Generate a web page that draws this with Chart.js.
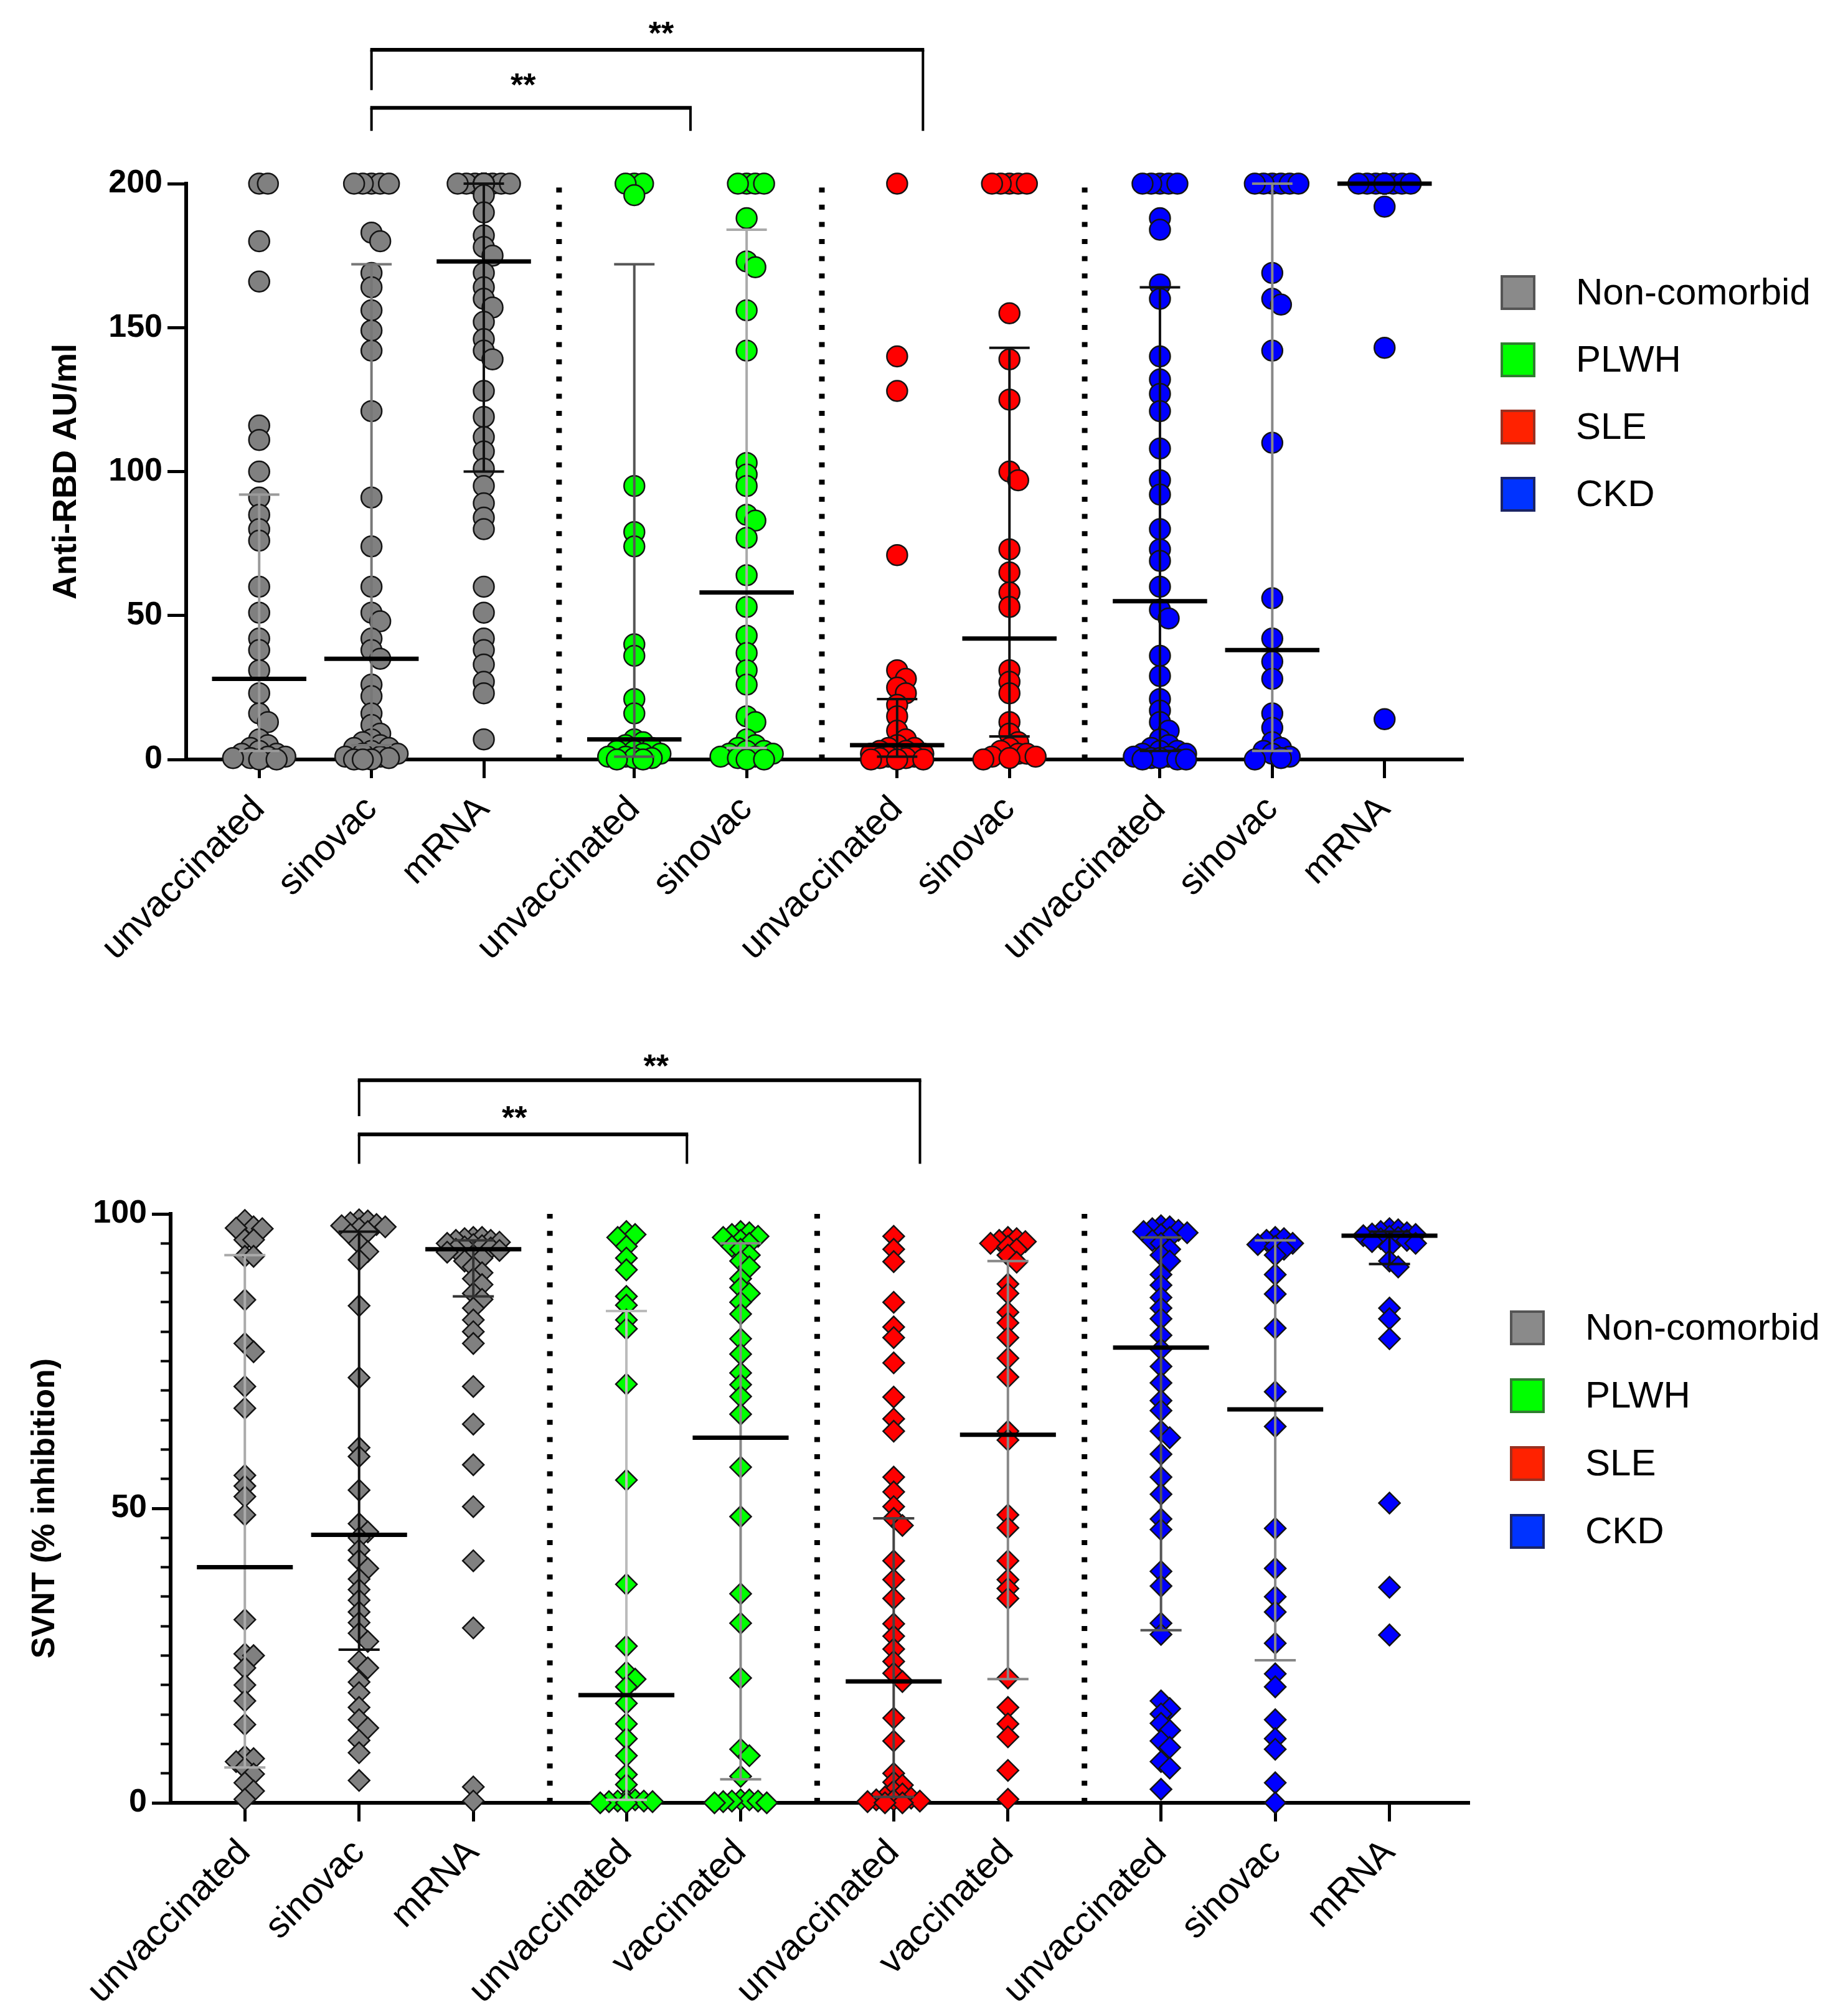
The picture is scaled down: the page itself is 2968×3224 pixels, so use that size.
<!DOCTYPE html>
<html><head><meta charset="utf-8">
<script src="https://cdn.jsdelivr.net/npm/chart.js@4.4.1/dist/chart.umd.min.js"></script>
<style>
html,body{margin:0;padding:0;background:#fff;}
#wrap{position:relative;width:2968px;height:3224px;overflow:hidden;background:#fff}
canvas{position:absolute;left:0;}
#c1{top:0}
#c2{top:1620px}
</style></head><body>
<div id="wrap"><canvas id="c1" width="2968" height="1620"></canvas><canvas id="c2" width="2968" height="1604"></canvas></div>
<script>
// ================= DATA =================
const seriesNames = ['Non-comorbid', 'PLWH', 'SLE', 'CKD'];
const rbdLabels  = ['unvaccinated','sinovac','mRNA','unvaccinated','sinovac','unvaccinated','sinovac','unvaccinated','sinovac','mRNA'];
const svntLabels = ['unvaccinated','sinovac','mRNA','unvaccinated','vaccinated','unvaccinated','vaccinated','unvaccinated','sinovac','mRNA'];
const groupSeries = [0, 0, 0, 1, 1, 2, 2, 3, 3, 3];
const rbdTicks  = [0, 50, 100, 150, 200];
const svntTicks = [0, 50, 100];
const rbdTitle  = 'Anti-RBD AU/ml';
const svntTitle = 'SVNT (% inhibition)';
const significance = ['**', '**'];

// Anti-RBD (AU/ml)
const rbdNonUnvacc  = [200, 200, 180, 166, 116, 111, 100, 91, 85, 80, 76, 60, 51, 42, 38, 31, 23, 16, 13, 7, 5, 4, 3, 2, 2, 1, 1, 0.5, 0.5, 0, 0];
const rbdNonSinovac = [200, 200, 200, 200, 200, 183, 180, 169, 164, 156, 149, 142, 121, 91, 74, 60, 51, 48, 42, 38, 35, 26, 22, 16, 12, 9, 7, 6, 5, 4, 4, 3, 2, 2, 1, 1, 0.5, 0, 0, 0];
const rbdNonMrna    = [200, 200, 200, 200, 200, 200, 200, 200, 200, 200, 200, 200, 200, 200, 200, 200, 200, 200, 196, 190, 182, 178, 175, 169, 164, 160, 157, 152, 146, 142, 139, 128, 119, 112, 107, 101, 95, 89, 84, 80, 60, 51, 42, 38, 33, 27, 23, 7];
const rbdPlwhUnvacc = [200, 200, 200, 196, 95, 79, 74, 40, 36, 21, 16, 7, 6, 5, 4, 3, 3, 2, 2, 1, 1, 0.5, 0.5, 0, 0];
const rbdPlwhSinovac= [200, 200, 200, 200, 188, 173, 171, 156, 142, 103, 99, 95, 85, 83, 77, 64, 53, 43, 37, 31, 26, 15, 13, 7, 5, 4, 3, 3, 2, 2, 1, 1, 0.5, 0, 0];
const rbdSleUnvacc  = [200, 140, 128, 71, 31, 28, 25, 23, 19, 15, 10, 7, 5, 4, 4, 3, 3, 2, 2, 1, 1, 1, 0.5, 0.5, 0, 0, 0];
const rbdSleSinovac = [200, 200, 200, 200, 200, 155, 139, 125, 100, 97, 73, 65, 58, 53, 31, 27, 23, 13, 9, 6, 4, 3, 2, 2, 1, 1, 0.5, 0];
const rbdCkdUnvacc  = [200, 200, 200, 200, 200, 188, 184, 165, 160, 140, 132, 127, 121, 108, 97, 92, 80, 73, 69, 60, 52, 49, 36, 29, 21, 17, 13, 10, 7, 5, 4, 3, 3, 2, 2, 1, 1, 0.5, 0.5, 0, 0, 0];
const rbdCkdSinovac = [200, 200, 200, 200, 200, 200, 169, 160, 158, 142, 110, 56, 42, 34, 28, 16, 11, 6, 4, 3, 2, 1, 0.5, 0];
const rbdCkdMrna    = [200, 200, 200, 200, 200, 200, 200, 200, 200, 200, 200, 200, 192, 143, 14];
const rbdMedian = [28, 35, 173, 7, 58, 5, 42, 55, 38, 200];
const rbdQ1     = [3, 5, 100, 1, 4, 1, 8, 3, 3, 200];
const rbdQ3     = [92, 172, 200, 172, 184, 21, 143, 164, 200, 200];

// SVNT (% inhibition)
const svntNonUnvacc  = [98.9, 97.8, 97.6, 97.5, 95.6, 95.6, 92.8, 92.8, 85.4, 78, 76.6, 70.7, 67, 55.6, 53.8, 52, 48.9, 31.1, 25.3, 25, 22.9, 20, 17.3, 13.3, 7.9, 7.5, 7, 5.9, 4.9, 3.4, 2, 0.6];
const svntNonSinovac = [99, 98.8, 98.5, 98.2, 98, 97.8, 97.5, 97, 96.5, 95, 93.6, 92.2, 84.4, 72.2, 60.3, 58.8, 53.1, 47.4, 46, 45, 42.9, 41.2, 39.8, 38, 36.2, 34.4, 32.4, 30.6, 28.8, 27.4, 24, 22.9, 20.5, 18.7, 16.2, 14.1, 12.7, 10.6, 8.5, 3.8];
const svntNonMrna    = [96, 96, 95.8, 95.5, 95.5, 95.2, 95, 94.8, 94.6, 94.4, 94.2, 94, 93.8, 93.5, 93, 92.5, 92, 91, 90, 89, 88, 86.5, 85.5, 84, 82, 80, 78, 70.7, 64.3, 57.4, 50.3, 41.1, 29.7, 2.7, 0.3];
const svntPlwhUnvacc = [97, 96.5, 96, 94.5, 92.5, 90.5, 86, 84.5, 82, 80.5, 71.1, 54.8, 37.1, 26.6, 22.2, 21, 19.7, 16.9, 13.4, 10.9, 8, 4.8, 3.1, 0.5, 0.5, 0.3, 0.3, 0.2, 0.2, 0, 0];
const svntPlwhVacc   = [97, 96.8, 96.5, 96.2, 96, 95.5, 95, 94.5, 94, 93, 92, 91, 89, 87.5, 86.5, 85, 83, 78.8, 76.2, 73, 71, 69, 66, 57, 48.6, 35.5, 30.5, 21.2, 9.1, 8, 4.5, 0.5, 0.5, 0.3, 0.3, 0.2, 0, 0];
const svntSleUnvacc  = [96.2, 94, 91.9, 85, 80.8, 79, 74.7, 68.9, 65.2, 63.1, 55.3, 52.8, 50.3, 48.3, 47.1, 41.1, 37.9, 34.7, 30.4, 28.3, 26.1, 24, 22, 20.6, 14.4, 10.5, 5, 3.5, 3, 2, 1.5, 1, 0.8, 0.5, 0.5, 0.3, 0.2, 0, 0];
const svntSleVacc    = [96, 95.8, 95.5, 95.3, 95, 94.5, 94, 93, 91.8, 88.1, 86.5, 83.3, 81.5, 79, 75.5, 72.3, 63.1, 61.6, 48.9, 46.7, 41.1, 37.9, 36.4, 34.7, 21.2, 16.2, 13.4, 11.2, 5.5, 0.6];
const svntCkdUnvacc  = [98, 97.8, 97.5, 97.2, 97, 96.8, 96.5, 96, 95.5, 95, 94, 93, 92, 89.7, 87.9, 85.8, 84, 82.2, 79.4, 77, 74.1, 71.3, 68.3, 66.6, 63.1, 62, 59.2, 55.3, 52.4, 48.2, 46.4, 39.3, 36.8, 30.5, 28.6, 17.3, 16, 15.1, 13.5, 12.3, 10.5, 9.4, 7, 5.9, 2.3];
const svntCkdSinovac = [96, 95.8, 95.5, 95, 94.8, 94.5, 94, 93, 89.7, 86.4, 80.6, 69.8, 63.9, 46.6, 39.8, 35, 32.4, 27.1, 21.9, 19.7, 14.1, 10.9, 9.1, 3.4, 0];
const svntCkdMrna    = [97.5, 97.3, 97, 96.8, 96.6, 96.5, 96.3, 96.2, 96, 95.8, 95.5, 95.3, 95, 94.5, 92, 91, 84, 82.2, 78.8, 50.9, 36.6, 28.5];
const svntMedian = [40, 45.5, 94, 18.3, 62, 20.6, 62.5, 77.3, 66.8, 96.3];
const svntQ1     = [6, 26, 86, 0.5, 4, 1, 21, 29.3, 24.2, 91.5];
const svntQ3     = [93, 97, 95.5, 83.5, 95, 48.3, 92, 96, 95.5, 97];

// ================= LAYOUT / STYLE =================
const FONT = "'Liberation Sans', Arial, Helvetica, sans-serif";
Chart.defaults.font.family = FONT;
Chart.defaults.color = '#000';
const POINT_FILL = ['#808080', '#00ff00', '#ff0000', '#0000ff'];
const LEGEND_FILL = ['#8a8a8a', '#00ff00', '#ff2200', '#0033ff'];
const LEGEND_STROKE = ['#555555', '#2f7f2f', '#9a3020', '#1a2466'];
const GROUP_POS = [1, 2, 3, 4.34, 5.34, 6.68, 7.68, 9.02, 10.02, 11.02];
const SEPARATORS = [3.67, 6.01, 8.35];
const X_MIN = 0.35, X_MAX = 11.72;
const MED_HALF = 0.42, CAP_HALF = 0.18;

function swarm(values, ypx, o) {
  const order = values.map((v, i) => i).sort((a, b) => (values[b] - values[a]) || (a - b));
  const slots = [0];
  for (let k = 1; k <= o.maxK; k++) slots.push(k * o.step, -k * o.step);
  const placed = [];
  const out = new Array(values.length).fill(0);
  order.forEach(i => {
    const yy = values[i] * ypx;
    let best = 0, bestD = -1;
    for (const off of slots) {
      let minD = Infinity;
      for (const p of placed) {
        const d = Math.hypot(p.x - off, p.y - yy);
        if (d < minD) minD = d;
      }
      if (minD >= o.thresh) { best = off; break; }
      if (minD > bestD) { bestD = minD; best = off; }
    }
    placed.push({x: best, y: yy});
    out[i] = best;
  });
  return out;
}

function makeChart(canvas, cfg) {
  const pointRefs = cfg.groups.map(() => []);
  const scatterSets = seriesNames.map((name, s) => ({
    type: 'scatter', label: name, data: [],
    backgroundColor: POINT_FILL[s], borderColor: '#141414', borderWidth: 2.5,
    pointStyle: cfg.pointStyle, pointRadius: cfg.pointRadius, pointHoverRadius: cfg.pointRadius,
    clip: false, order: 3
  }));
  cfg.groups.forEach((vals, g) => {
    const set = scatterSets[groupSeries[g]];
    vals.forEach(v => { const p = {x: GROUP_POS[g], y: v}; set.data.push(p); pointRefs[g].push(p); });
  });
  const gap = () => ({x: null, y: null});
  const medData = [], barData = [], capData = [], sepData = [];
  cfg.median.forEach((m, g) => {
    const c = GROUP_POS[g];
    medData.push({x: c - MED_HALF, y: m}, {x: c + MED_HALF, y: m}, gap());
    barData.push({x: c, y: cfg.q1[g]}, {x: c, y: cfg.q3[g]}, gap());
    capData.push({x: c - CAP_HALF, y: cfg.q3[g]}, {x: c + CAP_HALF, y: cfg.q3[g]}, gap(),
                 {x: c - CAP_HALF, y: cfg.q1[g]}, {x: c + CAP_HALF, y: cfg.q1[g]}, gap());
  });
  SEPARATORS.forEach(s => sepData.push({x: s, y: 0}, {x: s, y: cfg.yMax}, gap()));
  const lineBase = {type: 'line', pointRadius: 0, pointHoverRadius: 0, spanGaps: false, clip: false, fill: false, tension: 0, borderCapStyle: 'butt'};
  const datasets = [
    Object.assign({}, lineBase, {label: 'sep', data: sepData, borderColor: '#000', borderWidth: 9, borderDash: [8, 19.6], order: 5}),
    ...scatterSets,
    Object.assign({}, lineBase, {label: 'iqr', data: barData, borderWidth: 4, borderColor: '#000',
      segment: {borderColor: c => cfg.barColors[Math.floor(c.p0DataIndex / 3)]}, order: 2}),
    Object.assign({}, lineBase, {label: 'caps', data: capData, borderWidth: 4, borderColor: '#000',
      segment: {borderColor: c => cfg.barColors[Math.floor(c.p0DataIndex / 6)]}, order: 2}),
    Object.assign({}, lineBase, {label: 'median', data: medData, borderWidth: 7, borderColor: '#000', order: 1})
  ];

  const bracketPlugin = {
    id: 'brackets',
    afterDraw(chart) {
      const {ctx} = chart; const xs = chart.scales.x, ys = chart.scales.y;
      ctx.save();
      ctx.strokeStyle = '#000'; ctx.lineCap = 'butt'; ctx.lineJoin = 'miter';
      cfg.brackets.forEach((b, i) => {
        const x1 = xs.getPixelForValue(b.from), x2 = xs.getPixelForValue(b.to);
        const yb = ys.getPixelForValue(b.level);
        ctx.lineWidth = 4;
        ctx.beginPath();
        ctx.moveTo(x1, ys.getPixelForValue(b.leftEnd)); ctx.lineTo(x1, yb);
        ctx.moveTo(x2, yb); ctx.lineTo(x2, ys.getPixelForValue(b.rightEnd));
        ctx.stroke();
        ctx.lineWidth = 6;
        ctx.beginPath(); ctx.moveTo(x1 - 2, yb); ctx.lineTo(x2 + 2, yb); ctx.stroke();
        const fs = 52;
        ctx.font = 'bold ' + fs + 'px ' + FONT;
        ctx.fillStyle = '#000'; ctx.textAlign = 'center'; ctx.textBaseline = 'alphabetic';
        ctx.fillText(significance[i], xs.getPixelForValue(b.labelX), ys.getPixelForValue(b.labelY) + 0.57 * fs);
      });
      ctx.restore();
    }
  };
  const legendPlugin = {
    id: 'boxLegend',
    afterDraw(chart) {
      const {ctx} = chart; const L = cfg.legend;
      ctx.save();
      seriesNames.forEach((name, i) => {
        const cy = L.y0 + i * L.dy;
        ctx.fillStyle = LEGEND_FILL[i];
        ctx.fillRect(L.boxX - L.box / 2, cy - L.box / 2, L.box, L.box);
        ctx.strokeStyle = LEGEND_STROKE[i]; ctx.lineWidth = 4;
        ctx.strokeRect(L.boxX - L.box / 2 + 2, cy - L.box / 2 + 2, L.box - 4, L.box - 4);
        ctx.fillStyle = '#000'; ctx.font = L.font + 'px ' + FONT;
        ctx.textAlign = 'left'; ctx.textBaseline = 'middle';
        ctx.fillText(name, L.textX, cy + 2);
      });
      ctx.restore();
    }
  };

  const scales = {
    x: {
      type: 'linear', min: X_MIN, max: X_MAX,
      afterBuildTicks: s => { s.ticks = GROUP_POS.map(v => ({value: v})); },
      afterFit: s => { s.height = cfg.xAxisHeight; },
      ticks: {autoSkip: false, minRotation: 45, maxRotation: 45, padding: 16, color: '#000',
              font: {size: 58}, callback: (v, i) => cfg.labels[i]},
      grid: {drawOnChartArea: false, drawTicks: true, tickLength: 30, tickWidth: 5, tickColor: '#000'},
      border: {display: true, color: '#000', width: 6}
    },
    y: {
      type: 'linear', position: 'left', weight: 1, min: 0, max: cfg.yMax,
      afterBuildTicks: s => { s.ticks = cfg.yTicks.map(v => ({value: v})); },
      afterFit: s => { s.width = cfg.yAxisWidth; },
      ticks: {padding: 8, color: '#000', font: {size: 52, weight: 'bold'}},
      grid: {drawOnChartArea: false, drawTicks: true, tickLength: 30, tickWidth: 5, tickColor: '#000'},
      border: {display: true, color: '#000', width: 6},
      title: {display: true, text: cfg.yTitle, color: '#000', font: {size: cfg.titleSize, weight: 'bold'},
              padding: {top: cfg.titlePad, bottom: 0}}
    }
  };
  if (cfg.minorStep) {
    scales.yMinor = {
      type: 'linear', position: 'left', weight: 0, min: 0, max: cfg.yMax,
      afterFit: s => { s.width = 0; },
      ticks: {stepSize: cfg.minorStep, padding: 0, font: {size: 2}, callback: () => ''},
      grid: {drawOnChartArea: false, drawTicks: true, tickLength: 16, tickWidth: 4, tickColor: '#000'},
      border: {display: false}
    };
  }

  const chart = new Chart(canvas, {
    type: 'scatter',
    data: {datasets},
    options: {
      responsive: false, animation: false, devicePixelRatio: 1, events: [],
      layout: {padding: {top: cfg.padTop, right: cfg.padRight, left: 0, bottom: 0}},
      plugins: {legend: {display: false}, tooltip: {enabled: false}},
      scales
    },
    plugins: [bracketPlugin, legendPlugin]
  });

  const xs = chart.scales.x, ys = chart.scales.y;
  const xpx = Math.abs(xs.getPixelForValue(1) - xs.getPixelForValue(0));
  const ypx = Math.abs(ys.getPixelForValue(0) - ys.getPixelForValue(1));
  cfg.groups.forEach((vals, g) => {
    const offs = swarm(vals, ypx, cfg.swarm);
    pointRefs[g].forEach((p, i) => { p.x = GROUP_POS[g] + offs[i] / xpx; });
  });
  chart.update('none');
  return chart;
}

makeChart(document.getElementById('c1'), {
  groups: [rbdNonUnvacc, rbdNonSinovac, rbdNonMrna, rbdPlwhUnvacc, rbdPlwhSinovac, rbdSleUnvacc, rbdSleSinovac, rbdCkdUnvacc, rbdCkdSinovac, rbdCkdMrna],
  median: rbdMedian, q1: rbdQ1, q3: rbdQ3, labels: rbdLabels, yTicks: rbdTicks, yMax: 200, yTitle: rbdTitle,
  barColors: ['#9a9a9a', '#777777', '#111111', '#555555', '#aaaaaa', '#111111', '#111111', '#111111', '#888888', '#111111'],
  pointStyle: 'circle', pointRadius: 16.5,
  swarm: {step: 14, maxK: 3, thresh: 14},
  padTop: 295, padRight: 618, yAxisWidth: 299, xAxisHeight: 400, titleSize: 54, titlePad: 75,
  minorStep: 0,
  brackets: [
    {from: 2, to: 4.84, level: 226.3, leftEnd: 218.3, rightEnd: 218.3, labelX: 3.35, labelY: 237},
    {from: 2, to: 6.91, level: 246.5, leftEnd: 232.5, rightEnd: 218.3, labelX: 4.58, labelY: 254.8}
  ],
  legend: {boxX: 2438, textX: 2531, y0: 470, dy: 108, box: 56, font: 60}
});

makeChart(document.getElementById('c2'), {
  groups: [svntNonUnvacc, svntNonSinovac, svntNonMrna, svntPlwhUnvacc, svntPlwhVacc, svntSleUnvacc, svntSleVacc, svntCkdUnvacc, svntCkdSinovac, svntCkdMrna],
  median: svntMedian, q1: svntQ1, q3: svntQ3, labels: svntLabels, yTicks: svntTicks, yMax: 100, yTitle: svntTitle,
  barColors: ['#aaaaaa', '#111111', '#333333', '#bbbbbb', '#888888', '#444444', '#888888', '#555555', '#888888', '#111111'],
  pointStyle: 'rectRot', pointRadius: 17,
  swarm: {step: 14, maxK: 3, thresh: 14},
  padTop: 330, padRight: 608, yAxisWidth: 274, xAxisHeight: 328, titleSize: 52, titlePad: 41,
  minorStep: 5,
  brackets: [
    {from: 2, to: 4.87, level: 113.5, leftEnd: 108.5, rightEnd: 108.5, labelX: 3.36, labelY: 117.6},
    {from: 2, to: 6.91, level: 122.7, leftEnd: 116.6, rightEnd: 108.5, labelX: 4.6, labelY: 126.4}
  ],
  legend: {boxX: 2453, textX: 2546, y0: 513, dy: 109, box: 56, font: 60}
});
</script>
</body></html>
